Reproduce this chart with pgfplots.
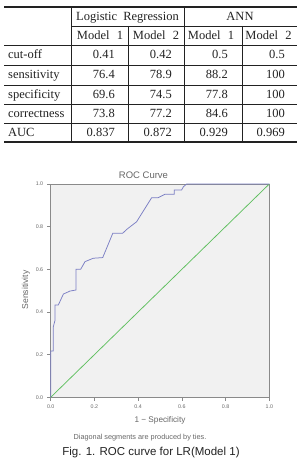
\documentclass[border=0pt]{standalone}
\usepackage{fontspec}
\usepackage{pgfplots}
\pgfplotsset{compat=1.18}
\setmainfont{Liberation Serif}
\newfontfamily\arial{Liberation Sans}
\definecolor{roc}{HTML}{7B7FC4}
\definecolor{diag}{HTML}{5FBF5F}
\definecolor{plotbg}{HTML}{F1F1F1}
\definecolor{axgray}{HTML}{8A8A8A}
\definecolor{txtgray}{HTML}{666666}
\definecolor{tabtxt}{HTML}{222222}
\begin{document}
\begin{tikzpicture}[x=1pt,y=1pt]
\path[use as bounding box] (0,0) rectangle (299,459);
% ---------- table ----------
\draw[line width=1.1pt,tabtxt] (4,452) -- (297,452);
\draw[line width=0.5pt,tabtxt] (71,433) -- (297,433);
\draw[line width=0.9pt,tabtxt] (4,414) -- (297,414);
\foreach \yy in {394,374,355,336}{\draw[line width=0.5pt,tabtxt] (4,\yy) -- (297,\yy);}
\draw[line width=1.1pt,tabtxt] (4,317) -- (297,317);
\draw[line width=0.5pt,tabtxt] (71,452) -- (71,317);
\draw[line width=0.5pt,tabtxt] (184,452) -- (184,317);
\draw[line width=0.5pt,tabtxt] (128,433) -- (128,317);
\draw[line width=0.5pt,tabtxt] (242,433) -- (242,317);
\begin{scope}[every node/.style={inner sep=0pt,text=tabtxt,font=\fontsize{12.5}{14}\selectfont}]
\node[anchor=base] at (127.5,438) {Logistic\hspace{3pt} Regression};
\node[anchor=base] at (240,438) {ANN};
\node[anchor=base] at (100,419) {Model\hspace{4pt} 1};
\node[anchor=base] at (156,419) {Model\hspace{4pt} 2};
\node[anchor=base] at (211,419) {Model\hspace{4pt} 1};
\node[anchor=base] at (268.5,419) {Model\hspace{4pt} 2};
\node[anchor=base west] at (8,400) {cut-off};
\node[anchor=base west] at (8,380) {sensitivity};
\node[anchor=base west] at (8,360) {specificity};
\node[anchor=base west] at (8,341) {correctness};
\node[anchor=base west] at (8,322) {AUC};
\foreach \v/\x/\y in {0.41/115/400, 0.42/172/400, 0.5/228/400, 0.5/285/400,
  76.4/115/380, 78.9/172/380, 88.2/228/380, 100/285/380,
  69.6/115/360, 74.5/172/360, 77.8/228/360, 100/285/360,
  73.8/115/341, 77.2/172/341, 84.6/228/341, 100/285/341,
  0.837/115/322, 0.872/172/322, 0.929/228/322, 0.969/285/322}{
  \node[anchor=base east] at (\x,\y) {\v};}
\end{scope}
% ---------- ROC chart ----------
\begin{axis}[
  at={(50.7pt,61.7pt)}, anchor=south west,
  scale only axis, width=218.6pt, height=213.3pt,
  xmin=0, xmax=1, ymin=0, ymax=1,
  xtick={0,0.2,...,1.01}, ytick={0,0.2,...,1.01},
  tick align=outside, tick pos=left,
  major tick length=3.5pt,
  every tick/.style={axgray, line width=0.5pt},
  axis line style={axgray, line width=0.6pt},
  axis background/.style={fill=plotbg},
  /pgf/number format/.cd, fixed, fixed zerofill, precision=1, assume math mode=true,
  /pgfplots/.cd,
  tick label style={font=\arial\fontsize{5.3}{6}\selectfont, text=txtgray},
  xticklabel style={yshift=-0.5pt},
  yticklabel style={xshift=-0.5pt},
  clip=false,
]
\addplot[diag, line width=0.75pt] coordinates {(0,0) (1,1)};
\addplot[roc, line width=0.75pt] coordinates {
(0,0) (0,0.217) (0.012,0.217) (0.012,0.331) (0.020,0.362) (0.020,0.433)
(0.035,0.433) (0.058,0.484) (0.088,0.498) (0.116,0.503) (0.116,0.600)
(0.137,0.600) (0.157,0.636) (0.195,0.652) (0.238,0.655) (0.284,0.769)
(0.329,0.769) (0.350,0.789) (0.393,0.823) (0.462,0.936) (0.492,0.936)
(0.523,0.952) (0.565,0.952) (0.565,0.972) (0.599,0.972) (0.607,0.987)
(0.622,1.0) (1,1)};
\end{axis}
\node[text=txtgray, font=\arial\fontsize{9.5}{11}\selectfont] at (143.5,283.3) {ROC Curve};
\node[text=txtgray, font=\arial\fontsize{8.6}{10}\selectfont, rotate=90] at (26,169) {Sensitivity};
\node[text=txtgray, font=\arial\fontsize{8.2}{10}\selectfont] at (160,39) {1 − Specificity};
\node[text=txtgray, font=\arial\fontsize{7.3}{9}\selectfont] at (140,21) {Diagonal segments are produced by ties.};
\node[text=tabtxt, font=\arial\fontsize{11.5}{13}\selectfont, anchor=base] at (151,3) {Fig. 1. ROC curve for LR(Model 1)};
\end{tikzpicture}
\end{document}
